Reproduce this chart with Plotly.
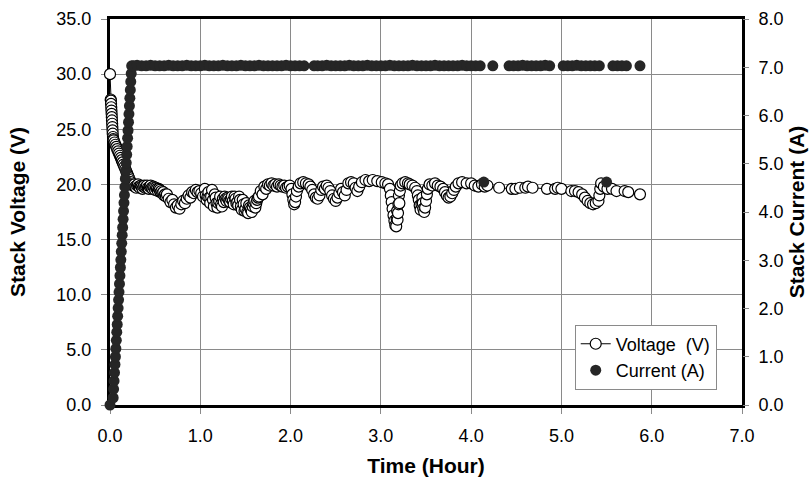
import plotly.graph_objects as go

# ---------------- data ----------------
volt_time = [
    0.000, 0.008, 0.010, 0.012, 0.014, 0.016, 0.018, 0.020, 0.022, 0.024, 0.026, 0.028, 0.030, 0.033, 0.036,
    0.04, 0.05, 0.06, 0.07, 0.08, 0.09, 0.10, 0.11, 0.12, 0.13, 0.14, 0.15, 0.16, 0.17, 0.18, 0.19, 0.20,
    0.21, 0.22, 0.23, 0.24, 0.25,
    0.26, 0.27, 0.28, 0.29, 0.30, 0.31, 0.32, 0.33, 0.34, 0.35, 0.36, 0.37, 0.38, 0.39, 0.40, 0.41,
    0.42, 0.43, 0.44, 0.45, 0.46, 0.47, 0.48, 0.49, 0.50, 0.51, 0.52, 0.53, 0.54, 0.55, 0.56, 0.57,
    0.58, 0.59, 0.60, 0.61, 0.62,
    0.63, 0.65, 0.67, 0.69, 0.71, 0.73, 0.75, 0.77, 0.79, 0.81, 0.83, 0.85, 0.87, 0.89, 0.91, 0.93,
    0.95, 0.97, 0.99, 1.01, 1.03,
    1.05, 1.06, 1.07, 1.08, 1.09, 1.10, 1.11, 1.12, 1.13, 1.14, 1.15, 1.16, 1.17, 1.18, 1.19, 1.20,
    1.21, 1.22, 1.23, 1.24, 1.25, 1.26, 1.27, 1.28, 1.29, 1.30, 1.31, 1.32, 1.33, 1.34, 1.35, 1.36,
    1.37, 1.38, 1.39, 1.40, 1.41, 1.42, 1.43, 1.44, 1.45, 1.46, 1.47, 1.48, 1.49, 1.50, 1.51, 1.52,
    1.53, 1.54, 1.55, 1.56, 1.57, 1.58, 1.59, 1.60, 1.61, 1.62, 1.63, 1.64,
    1.65, 1.67, 1.69, 1.71, 1.73, 1.75, 1.77, 1.79, 1.81, 1.83, 1.85, 1.87, 1.89, 1.91, 1.93, 1.95,
    1.97, 1.99,
    2.01, 2.02, 2.03, 2.04, 2.05, 2.06, 2.07, 2.09, 2.11, 2.14, 2.17, 2.20,
    2.22, 2.24, 2.26, 2.28, 2.30, 2.32, 2.34, 2.36, 2.38, 2.40,
    2.42, 2.44, 2.46, 2.48, 2.50, 2.52, 2.54, 2.56, 2.58, 2.60, 2.62, 2.64,
    2.67, 2.70, 2.72, 2.74, 2.76, 2.79, 2.83, 2.87, 2.91, 2.96, 3.01, 3.05,
    3.08, 3.10, 3.11, 3.12, 3.13, 3.14, 3.15, 3.16, 3.17, 3.175, 3.18, 3.185, 3.19, 3.195, 3.20, 3.205,
    3.21, 3.22, 3.24, 3.27, 3.30, 3.32,
    3.35, 3.38, 3.40, 3.41, 3.42, 3.43, 3.44, 3.45, 3.46, 3.465, 3.47, 3.48, 3.49, 3.50, 3.51, 3.52,
    3.54, 3.57, 3.60, 3.63, 3.66,
    3.69, 3.71, 3.73, 3.75, 3.77, 3.79, 3.81, 3.83, 3.86, 3.90, 3.95, 4.00, 4.04, 4.08, 4.12, 4.15, 4.18,
    4.31, 4.45, 4.49, 4.54, 4.60, 4.63, 4.68, 4.84, 4.93, 4.96, 5.00, 5.11, 5.15, 5.19, 5.23, 5.26,
    5.29, 5.32, 5.35, 5.38, 5.41, 5.42, 5.43, 5.44, 5.47, 5.51, 5.56, 5.61, 5.70, 5.74, 5.87,
]
volt_value = [
    30.0, 27.7, 27.6, 27.3, 27.0, 26.7, 26.4, 26.1, 25.8, 25.5, 25.2, 24.9, 24.6, 24.3, 24.1,
    24.0, 23.8, 23.6, 23.4, 23.2, 23.0, 22.8, 22.6, 22.4, 22.2, 22.0, 21.8, 21.6, 21.4, 21.2, 21.0, 20.8,
    20.6, 20.4, 20.2, 20.0, 19.9,
    19.9, 20.0, 19.8, 19.7, 19.9, 20.0, 19.8, 19.7, 19.9, 19.8, 19.6, 19.8, 19.9, 19.7, 19.8, 19.9,
    19.7, 19.6, 19.8, 19.9, 19.7, 19.6, 19.8, 19.7, 19.5, 19.7, 19.6, 19.4, 19.6, 19.5, 19.3, 19.4,
    19.2, 19.3, 19.0, 19.1, 18.9,
    19.1, 18.7, 18.4, 18.6, 18.2, 17.9, 18.1, 17.8, 18.2, 18.5, 18.3, 18.7, 19.0, 18.8, 19.3, 19.2,
    19.5, 19.3, 19.4, 19.2, 18.9,
    19.6, 19.0, 18.6, 18.9, 19.3, 18.8, 18.3, 18.9, 19.5, 18.6, 18.0, 19.1, 18.8, 18.3, 17.9, 18.3,
    18.5, 18.9, 18.2, 18.0, 18.7, 18.4, 18.9, 18.7, 18.5, 18.8, 18.7, 18.5, 18.4, 18.7, 18.9, 18.5,
    18.2, 18.9, 18.7, 18.3, 18.4, 18.1, 18.9, 18.6, 18.0, 17.7, 18.6, 18.2, 17.6, 17.8, 18.3, 17.5,
    17.4, 18.1, 17.9, 17.7, 17.5, 18.0, 18.3, 18.5, 17.9, 18.3, 18.6, 18.8,
    18.9, 19.4, 19.1, 19.8, 19.6, 20.0, 19.9, 20.1, 19.9, 20.0, 19.8, 20.0, 19.9, 19.8, 19.9, 19.7,
    19.8, 19.9,
    19.6, 19.1, 18.6, 18.2, 18.4, 18.9, 19.4, 19.8, 20.1, 20.2, 20.1, 20.0,
    19.8, 19.5, 19.1, 18.8, 18.7, 19.0, 19.5, 19.8, 19.6, 19.9,
    19.7, 19.4, 19.0, 18.7, 18.5, 18.8, 19.2, 19.6, 19.3, 19.0, 19.5, 20.1,
    20.2, 20.1, 19.7, 19.4, 19.8, 20.2, 20.4, 20.3, 20.4, 20.3, 20.2, 20.1,
    20.0, 19.6, 19.0, 18.4, 17.8, 17.2, 16.7, 16.3, 16.2, 16.9, 17.6, 16.8, 17.4, 18.2, 19.0, 18.3,
    19.4, 19.9, 20.1, 20.2, 20.1, 20.0,
    19.9, 19.7, 19.4, 19.0, 18.6, 18.1, 17.7, 18.2, 18.8, 18.3, 17.8, 17.5, 17.9, 18.5, 19.1, 19.6,
    20.0, 19.9, 20.1, 19.9, 19.8,
    19.6, 19.3, 19.0, 18.8, 18.9, 19.2, 19.5, 19.8, 20.1, 20.2, 20.1, 20.1, 19.9, 19.8, 20.0, 19.8, 19.9,
    19.7, 19.6, 19.6, 19.7, 19.7, 19.8, 19.7, 19.6, 19.6, 19.7, 19.6, 19.4, 19.4, 19.3, 19.1, 18.8,
    18.5, 18.3, 18.2, 18.3, 18.5, 19.0, 19.6, 20.1, 19.8, 19.6, 19.6, 19.4, 19.4, 19.3, 19.1,
]

curr_time = [
    0.000,
    0.035, 0.040, 0.045, 0.050, 0.055, 0.060, 0.065, 0.070, 0.075, 0.080, 0.085, 0.090, 0.095, 0.100,
    0.105, 0.110, 0.115, 0.120, 0.125, 0.130, 0.135, 0.140, 0.145, 0.150, 0.155, 0.160, 0.165, 0.170,
    0.175, 0.180, 0.185, 0.190, 0.195, 0.200, 0.205, 0.210, 0.215, 0.220, 0.225, 0.230, 0.235, 0.240,
    0.26, 0.30, 0.35, 0.40, 0.45, 0.50, 0.55, 0.60, 0.65, 0.70, 0.75, 0.80, 0.85, 0.90, 0.95, 1.00,
    1.05, 1.10, 1.15, 1.20, 1.25, 1.30, 1.35, 1.40, 1.45, 1.50, 1.55, 1.60, 1.65, 1.70, 1.75, 1.80,
    1.85, 1.90, 1.95, 2.00, 2.05, 2.10, 2.15,
    2.26, 2.30, 2.35, 2.40, 2.45, 2.50, 2.55, 2.60, 2.65, 2.70, 2.75, 2.80, 2.85, 2.90, 2.95, 3.00,
    3.05, 3.10, 3.15, 3.20, 3.25, 3.30, 3.35, 3.40, 3.45, 3.50, 3.55, 3.60, 3.65, 3.70, 3.75, 3.80,
    3.85, 3.90, 3.95, 4.00, 4.05, 4.10,
    4.14, 4.24,
    4.42, 4.47, 4.52, 4.57, 4.62, 4.67, 4.72, 4.77, 4.82, 4.87,
    5.02, 5.07, 5.12, 5.17, 5.22, 5.27, 5.32, 5.37, 5.42,
    5.50, 5.57, 5.62, 5.67, 5.72, 5.87,
]
curr_value = [
    0.00,
    0.15, 0.33, 0.50, 0.67, 0.84, 1.00, 1.17, 1.34, 1.51, 1.67, 1.84, 2.01, 2.18, 2.34,
    2.51, 2.68, 2.85, 3.01, 3.18, 3.35, 3.52, 3.68, 3.85, 4.02, 4.19, 4.35, 4.52, 4.69,
    4.86, 5.02, 5.19, 5.36, 5.53, 5.69, 5.86, 6.03, 6.20, 6.36, 6.53, 6.70, 6.87, 7.03,
    7.03, 7.04, 7.03, 7.03, 7.04, 7.03, 7.03, 7.03, 7.04, 7.03, 7.03, 7.03, 7.04, 7.03, 7.03, 7.03,
    7.04, 7.03, 7.03, 7.03, 7.04, 7.03, 7.03, 7.03, 7.04, 7.03, 7.03, 7.03, 7.04, 7.03, 7.03, 7.03,
    7.03, 7.03, 7.04, 7.03, 7.03, 7.03, 7.03,
    7.03, 7.03, 7.03, 7.04, 7.03, 7.03, 7.03, 7.03, 7.04, 7.03, 7.03, 7.03, 7.04, 7.03, 7.03, 7.03,
    7.03, 7.04, 7.03, 7.03, 7.03, 7.03, 7.04, 7.03, 7.03, 7.03, 7.03, 7.04, 7.03, 7.03, 7.03, 7.03,
    7.03, 7.04, 7.03, 7.03, 7.03, 7.03,
    4.62, 7.03,
    7.03, 7.03, 7.03, 7.04, 7.03, 7.03, 7.03, 7.03, 7.04, 7.03,
    7.03, 7.03, 7.03, 7.04, 7.03, 7.03, 7.03, 7.03, 7.03,
    4.62, 7.03, 7.03, 7.03, 7.03, 7.03,
]

x_ticks = [0, 1, 2, 3, 4, 5, 6, 7]
x_labels = ["0.0", "1.0", "2.0", "3.0", "4.0", "5.0", "6.0", "7.0"]
yv_ticks = [0, 5, 10, 15, 20, 25, 30, 35]
yv_labels = ["0.0", "5.0", "10.0", "15.0", "20.0", "25.0", "30.0", "35.0"]
yc_ticks = [0, 1, 2, 3, 4, 5, 6, 7, 8]
yc_labels = ["0.0", "1.0", "2.0", "3.0", "4.0", "5.0", "6.0", "7.0", "8.0"]

FONT = "Liberation Sans, Arial, sans-serif"
GRID = "#8a8a8a"

fig = go.Figure()
fig.add_trace(go.Scatter(
    x=volt_time, y=volt_value, name="Voltage\u00a0 (V)", mode="lines+markers",
    line=dict(color="black", width=1),
    marker=dict(symbol="circle", size=11, color="white", line=dict(color="black", width=1.2)),
    cliponaxis=False,
))
fig.add_trace(go.Scatter(
    x=curr_time, y=curr_value, name="Current (A)", yaxis="y2", mode="markers",
    marker=dict(symbol="circle", size=11, color="#262626", line=dict(width=0)),
    cliponaxis=False,
))

fig.update_layout(
    width=809, height=492,
    margin=dict(l=110, r=67, t=19, b=87, autoexpand=False),
    paper_bgcolor="white", plot_bgcolor="white",
    font=dict(family=FONT, size=18, color="black"),
    showlegend=True,
    legend=dict(
        x=0.96, xanchor="right", y=0.04, yanchor="bottom",
        bgcolor="white", bordercolor="#8a8a8a", borderwidth=1,
        font=dict(family=FONT, size=18, color="black"),
        tracegroupgap=2, itemwidth=30,
    ),
    xaxis=dict(
        range=[0, 7], tickvals=x_ticks, ticktext=x_labels,
        showgrid=True, gridcolor=GRID, gridwidth=1, zeroline=False,
        showline=True, linecolor="black", linewidth=3, mirror=True,
        ticks="outside", ticklen=6, tickcolor=GRID, tickwidth=1,
        ticklabelstandoff=6, automargin=False,
        layer="below traces",
        title=dict(text="<b>Time (Hour)</b>", font=dict(family=FONT, size=21), standoff=14),
    ),
    yaxis=dict(
        range=[0, 35], tickvals=yv_ticks, ticktext=yv_labels,
        showgrid=True, gridcolor=GRID, gridwidth=1, zeroline=False,
        showline=True, linecolor="black", linewidth=3, mirror=True,
        ticks="outside", ticklen=6, tickcolor=GRID, tickwidth=1,
        ticklabelstandoff=6, automargin=False,
        layer="below traces",
        title=dict(text="<b>Stack Voltage (V)</b>", font=dict(family=FONT, size=21), standoff=26),
    ),
    yaxis2=dict(
        range=[0, 8], tickvals=yc_ticks, ticktext=yc_labels,
        overlaying="y", side="right",
        showgrid=False, zeroline=False, showline=False,
        ticks="outside", ticklen=6, tickcolor=GRID, tickwidth=1,
        ticklabelstandoff=6, automargin=False,
        layer="below traces",
        title=dict(text="<b>Stack Current (A)</b>", font=dict(family=FONT, size=21), standoff=6),
    ),
)

fig.write_html("out.html")
